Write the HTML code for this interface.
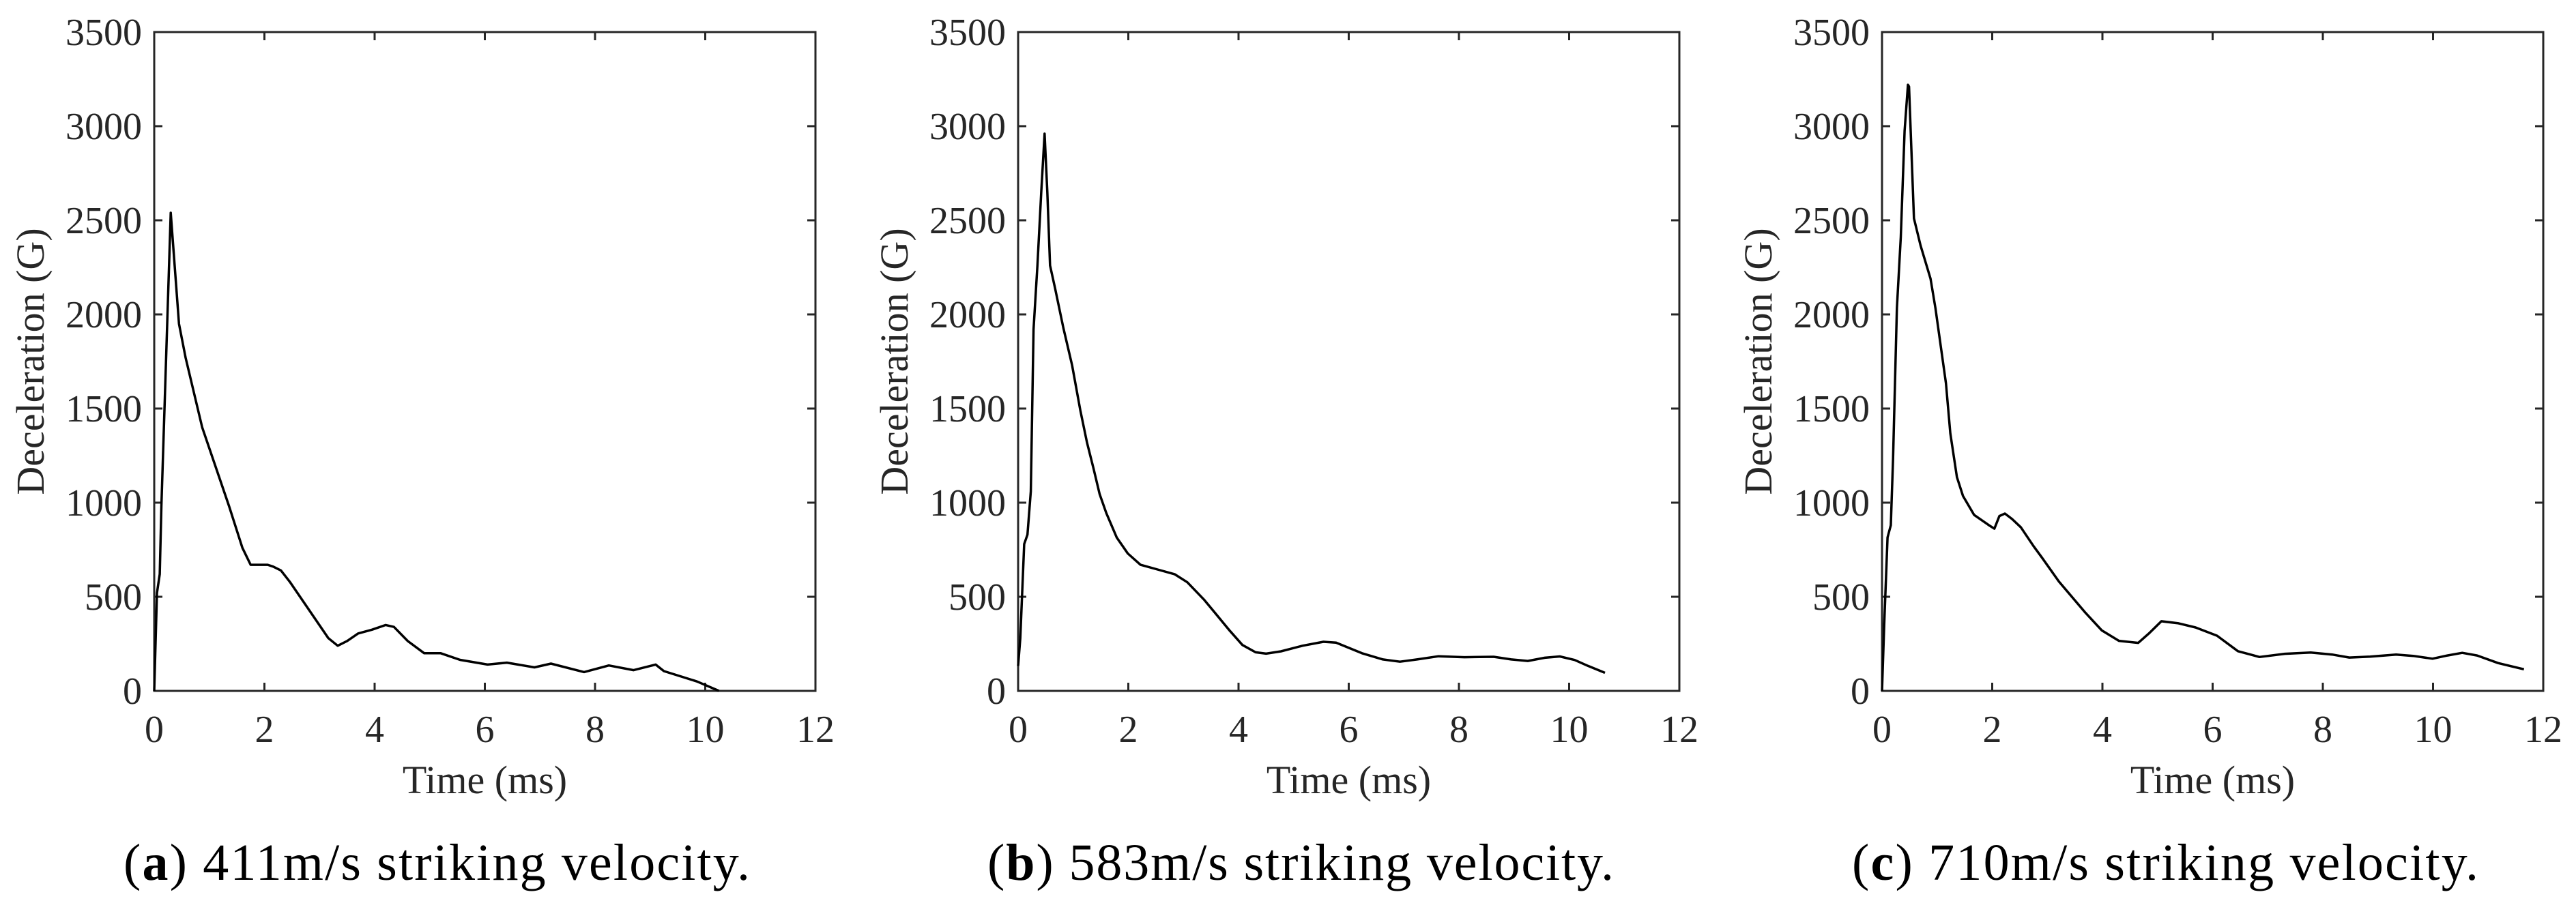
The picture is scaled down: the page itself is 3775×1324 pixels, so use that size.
<!DOCTYPE html>
<html><head><meta charset="utf-8"><style>
html,body{margin:0;padding:0;background:#fff;}
svg{display:block;}
text{font-family:"Liberation Serif",serif;}
</style></head><body>
<svg id="fig" width="3775" height="1324" viewBox="0 0 3775 1324" xmlns="http://www.w3.org/2000/svg"></svg>
<script>
const xTicks = [0,2,4,6,8,10,12];
const yTicks = [0,500,1000,1500,2000,2500,3000,3500];
const captionsNum = ["(a)","(b)","(c)"];
const captionsText = [" 411m/s striking velocity."," 583m/s striking velocity."," 710m/s striking velocity."];
const tA = [0,0.05,0.1,0.13,0.3,0.45,0.57,0.87,1.36,1.6,1.75,2.06,2.16,2.3,2.46,3.16,3.33,3.5,3.7,3.95,4.2,4.35,4.6,4.9,5.2,5.55,6.05,6.4,6.9,7.2,7.8,8.25,8.7,9.1,9.25,9.85,10.25];
const gA = [0,520,620,980,2540,1950,1770,1400,980,760,670,670,660,640,580,280,240,265,305,325,350,340,265,200,200,165,140,150,125,145,100,135,110,140,105,50,0];
const tB = [0,0.04,0.11,0.17,0.23,0.28,0.35,0.42,0.48,0.53,0.58,0.67,0.82,0.98,1.13,1.25,1.37,1.48,1.6,1.79,1.99,2.22,2.53,2.84,3.07,3.38,3.84,4.07,4.31,4.5,4.77,5.16,5.54,5.77,6.24,6.62,6.93,7.24,7.63,8.1,8.63,8.95,9.25,9.56,9.83,10.1,10.34,10.65];
const gB = [133,280,780,830,1060,1920,2260,2650,2960,2650,2260,2140,1930,1730,1490,1320,1180,1045,945,815,730,670,645,620,577,483,320,244,205,198,210,240,261,256,200,167,155,167,184,179,181,167,159,176,183,164,133,96];
const tC = [0,0.04,0.1,0.16,0.2,0.27,0.34,0.41,0.47,0.49,0.58,0.7,0.88,0.97,1.16,1.24,1.36,1.47,1.67,1.94,2.04,2.13,2.23,2.36,2.52,2.75,2.9,3.21,3.68,3.99,4.3,4.65,4.84,5.07,5.38,5.69,6.08,6.46,6.85,7.31,7.78,8.17,8.48,8.86,9.33,9.64,9.99,10.26,10.53,10.8,11.18,11.65];
const gC = [0,350,815,880,1235,2033,2410,2975,3220,3210,2510,2366,2190,2033,1634,1368,1135,1035,935,880,862,929,942,913,869,769,709,581,419,321,266,255,304,370,359,337,293,211,180,197,204,193,177,182,193,186,171,188,202,188,148,115];
const series = [[tA,gA],[tB,gB],[tC,gC]];

const NS="http://www.w3.org/2000/svg";
const svg=document.getElementById('fig');
function mk(tag,attrs,parent){const e=document.createElementNS(NS,tag);for(const k in attrs)e.setAttribute(k,attrs[k]);(parent||svg).appendChild(e);return e;}
const lefts=[226,1492,2758], W=969, TOP=47, BOT=1013, H=BOT-TOP;
const capCenters=[640,1906,3173];
const XMAX=12, YMAX=3500, TL=12;
const names=['a','b','c'];
for(let p=0;p<3;p++){
  const L=lefts[p];
  const sx=v=>L+v/XMAX*W;
  const sy=v=>BOT-v/YMAX*H;
  const g=mk('g',{});
  
  
  xTicks.forEach(t=>{
    const x=sx(t);
    mk('line',{x1:x,y1:BOT,x2:x,y2:BOT-TL,stroke:'#262626','stroke-width':3},g);
    mk('line',{x1:x,y1:TOP,x2:x,y2:TOP+TL,stroke:'#262626','stroke-width':3},g);
    const tx=mk('text',{x:x,y:1088,'text-anchor':'middle','font-size':56,fill:'#262626'},g);
    
    
    tx.textContent=t;
  });
  yTicks.forEach(t=>{
    const y=sy(t);
    mk('line',{x1:L,y1:y,x2:L+TL,y2:y,stroke:'#262626','stroke-width':3},g);
    mk('line',{x1:L+W,y1:y,x2:L+W-TL,y2:y,stroke:'#262626','stroke-width':3},g);
    const tx=mk('text',{x:L-18,y:y+19,'text-anchor':'end','font-size':56,fill:'#262626'},g);
    
    
    tx.textContent=t;
  });
  const box=mk('rect',{x:L,y:TOP,width:W,height:H,fill:'none',stroke:'#262626','stroke-width':3},g);
  
  
  const [ts,gs]=series[p];
  const d=ts.map((t,i)=>(i?'L':'M')+sx(t).toFixed(1)+' '+sy(gs[i]).toFixed(1)).join(' ');
  const path=mk('path',{d:d,fill:'none',stroke:'#000','stroke-width':3.5,'stroke-linejoin':'round'},g);
  
  
  const xt=mk('text',{x:L+W/2,y:1163,'text-anchor':'middle','font-size':58,fill:'#262626'},g);
  
  
  xt.textContent='Time (ms)';
  const cy=(TOP+BOT)/2, cx=L-162;
  const yt=mk('text',{x:cx,y:cy,'text-anchor':'middle','font-size':58,fill:'#262626',transform:`rotate(-90 ${cx} ${cy})`},g);
  
  
  yt.textContent='Deceleration (G)';
  const cap=mk('text',{x:capCenters[p]-459,y:1290,'font-size':76,fill:'#000',textLength:918,lengthAdjust:'spacing'},g);
  
  
  const s1=mk('tspan',{},cap);
  s1.textContent='(';
  const s2=mk('tspan',{'font-weight':'bold'},cap);
  s2.textContent=captionsNum[p].slice(1,2);
  const s3=mk('tspan',{},cap);
  s3.textContent=')'+captionsText[p];
}
</script>
</body></html>
